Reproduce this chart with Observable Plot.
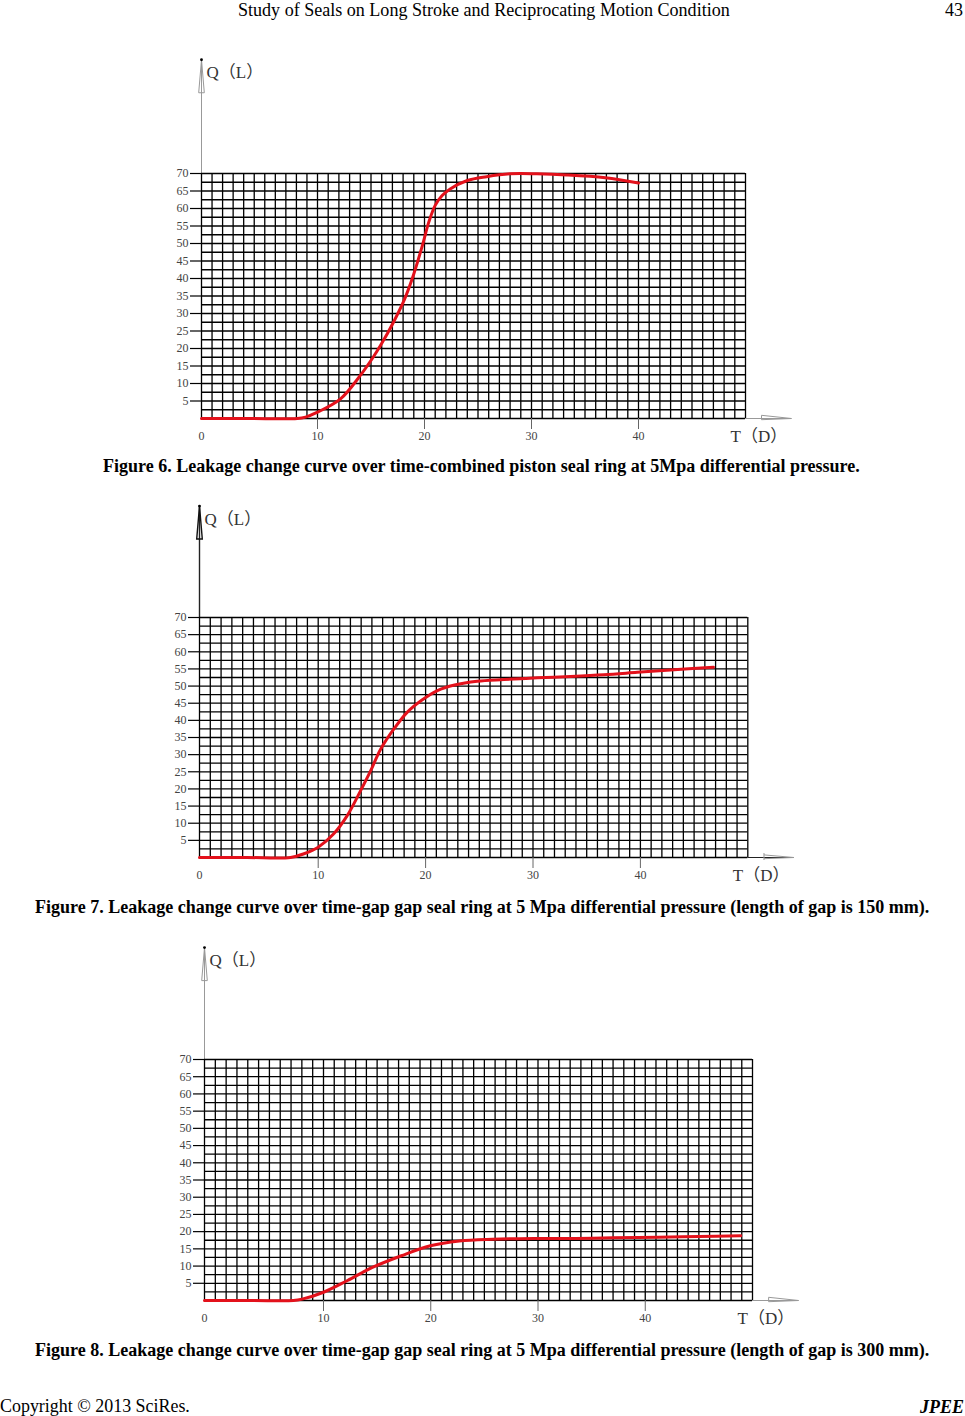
<!DOCTYPE html>
<html><head><meta charset="utf-8">
<script src="https://cdn.jsdelivr.net/npm/d3@7"></script>
<script src="https://cdn.jsdelivr.net/npm/@observablehq/plot@0.6"></script>
<style>
body{margin:0;background:#fff;}
#page{position:relative;width:965px;height:1416px;overflow:hidden;font-family:"Liberation Serif","Times New Roman",serif;color:#000;background:#fff;}
.t{position:absolute;white-space:nowrap;line-height:1;}
.chart{position:absolute;left:0;}
</style></head><body><div id="page"></div>
<script>
// ---------- data ----------
const fig6T = [0, 4, 8.25, 8.97, 10, 12.15, 14, 15.2, 15.9, 17.1, 18.1, 18.85, 19.8, 20.4, 21.0, 21.65, 22.4, 24, 25.8, 28, 30.5, 33.3, 36.9, 40];
const fig6Q = [0, 0, 0, 0.4, 1.8, 5.6, 12.3, 17.5, 20.9, 27.5, 33.8, 39.9, 49.4, 56.1, 60.9, 63.7, 65.6, 68, 69.1, 69.9, 69.9, 69.6, 68.8, 67.3];

const fig7T = [0, 4, 7.67, 8.8, 10, 11.45, 12.7, 13.95, 14.9, 15.8, 17.1, 18.3, 19.6, 21.1, 22.7, 24.8, 27.3, 30.4, 33.5, 36.6, 39.7, 42.8, 46.8];
const fig7Q = [0, 0, 0, 1.1, 3.0, 6.9, 12.2, 19.5, 25.4, 31.5, 37.7, 42.4, 45.8, 48.7, 50.3, 51.4, 51.9, 52.4, 52.8, 53.3, 54.0, 54.7, 55.5];

const fig8T = [0, 4, 7.47, 8.2, 10, 12.24, 14.56, 17.26, 19.96, 22.66, 25.75, 29.6, 33.5, 37, 41.2, 45, 48.9];
const fig8Q = [0, 0, 0, 0.4, 2.4, 5.8, 9.6, 13, 15.9, 17.3, 17.8, 18.0, 18.0, 18.2, 18.4, 18.6, 18.8];

const yTickValues = [5, 10, 15, 20, 25, 30, 35, 40, 45, 50, 55, 60, 65, 70];
const xTickLabels = [0, 10, 20, 30, 40];
const xTickMarks = [10, 20, 30, 40];
const yLabel = "Q（L）";
const xLabel = "T（D）";

const captions = [
  "Figure 6. Leakage change curve over time-combined piston seal ring at 5Mpa differential pressure.",
  "Figure 7. Leakage change curve over time-gap gap seal ring at 5 Mpa differential pressure (length of gap is 150 mm).",
  "Figure 8. Leakage change curve over time-gap gap seal ring at 5 Mpa differential pressure (length of gap is 300 mm)."
];
const headerText = "Study of Seals on Long Stroke and Reciprocating Motion Condition";
const pageNumber = "43";
const footerLeft = "Copyright © 2013 SciRes.";
const footerRight = "JPEE";

// ---------- layout ----------
const xDomain = [0, 10, 50];       // 0–10 segment is wider in the reference
const yDomain = [0, 70];
const yAxisTop = 102.5;
const xAxisEnd = 54.3;
const xGrid = d3.range(12).map(k => k * 10 / 11).concat(d3.range(11, 51));
const yGrid = d3.range(0, 70.01, 2.5);

const FONT = "Liberation Serif, Noto Sans CJK SC, serif";
const RED = "#e3111b";

const arrowRight = {draw(ctx) { ctx.moveTo(-30, -3.2); ctx.lineTo(0, 0); ctx.lineTo(-30, 1.2); ctx.closePath(); }};
const arrowRightTick = {draw(ctx) { ctx.moveTo(-30, -4.5); ctx.lineTo(-30, 2.5); ctx.moveTo(-30, -2.6); ctx.lineTo(0, 0); ctx.lineTo(-30, 1.2); }};
const arrowUp = {draw(ctx) { ctx.moveTo(-2.8, 33); ctx.lineTo(0, 0); ctx.lineTo(2.8, 33); ctx.closePath(); }};

function chart(cfg) {
  const data = cfg.T.map((t, i) => ({t, q: cfg.Q[i]}));
  const p = Plot.plot({
    width: 965, height: cfg.height, margin: 0,
    style: {background: "transparent", overflow: "visible"},
    x: {type: "linear", domain: xDomain, range: cfg.xRange, axis: null},
    y: {type: "linear", domain: yDomain, range: cfg.yRange, axis: null},
    marks: [
      Plot.ruleX([0], {y1: 70, y2: yAxisTop, stroke: cfg.axisColor, strokeWidth: cfg.axisWidth}),
      Plot.ruleY([0], {x1: 50, x2: xAxisEnd, stroke: cfg.axisColor, strokeWidth: 1}),
      Plot.dot([0], {x: 0, y: yAxisTop, symbol: arrowUp, r: 4, fill: "none", stroke: cfg.arrowColor, strokeWidth: cfg.axisWidth}),
      Plot.dot([0], {x: 0, y: yAxisTop, r: 1.4, fill: "#000", stroke: null}),
      Plot.dot([0], {x: xAxisEnd, y: 0, symbol: cfg.xArrow, r: 4, fill: "none", stroke: "#999", strokeWidth: 1}),
      Plot.ruleX(xGrid, {x: d => d, y1: 0, y2: 70, stroke: "#000", strokeWidth: 1.3}),
      Plot.ruleY(yGrid, {y: d => d, x1: 0, x2: 50, stroke: "#000", strokeWidth: 1.3}),
      Plot.ruleY(yTickValues, {y: d => d, x1: 0, x2: 0, insetLeft: -11, stroke: "#000", strokeWidth: 1.2}),
      Plot.ruleX(xTickMarks, {x: d => d, y1: 0, y2: 0, insetBottom: -11, stroke: "#666", strokeWidth: 1}),
      Plot.text(yTickValues, {x: 0, y: d => d, text: d => String(d), textAnchor: "end", dx: -13, fontSize: 12, fill: "#444", fontFamily: FONT}),
      Plot.text(xTickLabels, {x: d => d, y: 0, text: d => String(d), dy: 18, fontSize: 12, fill: "#444", fontFamily: FONT}),
      Plot.text([yLabel], {x: 0, y: yAxisTop, text: d => d, textAnchor: "start", dx: 5, dy: 13, fontSize: 17, fill: "#333", fontFamily: FONT}),
      Plot.text([xLabel], {x: 50, y: 0, text: d => d, textAnchor: "start", dx: -15, dy: 18, fontSize: 17, fill: "#333", fontFamily: FONT}),
      Plot.line(data, {x: "t", y: "q", stroke: RED, strokeWidth: 3, curve: "catmull-rom"})
    ]
  });
  p.classList.add("chart");
  p.style.top = cfg.top + "px";
  page.appendChild(p);
}

const page = document.getElementById("page");

chart({top: 45, height: 405, xRange: [201, 317, 745], yRange: [373, 128], T: fig6T, Q: fig6Q, axisColor: "#999", arrowColor: "#999", axisWidth: 1, xArrow: arrowRight});
chart({top: 495, height: 400, xRange: [199, 317.7, 747.3], yRange: [362, 122], T: fig7T, Q: fig7Q, axisColor: "#222", arrowColor: "#111", axisWidth: 1.4, xArrow: arrowRightTick});
chart({top: 940, height: 400, xRange: [204, 323, 752], yRange: [360, 119], T: fig8T, Q: fig8Q, axisColor: "#999", arrowColor: "#999", axisWidth: 1, xArrow: arrowRight});

// text sized so its natural width matches the reference width
function addText(str, {left, width, center, weight = "normal", style = "normal"}) {
  const d = document.createElement("div");
  d.className = "t";
  d.textContent = str;
  d.style.fontSize = "20px";
  d.style.fontWeight = weight;
  d.style.fontStyle = style;
  d.style.left = left + "px";
  page.appendChild(d);
  const w = d.getBoundingClientRect().width;
  const size = 20 * width / w;
  d.style.fontSize = size + "px";
  d.style.top = (center - 0.51 * size) + "px";
}

addText(headerText, {left: 238, width: 492, center: 10});
addText(pageNumber, {left: 945, width: 18, center: 10});
addText(captions[0], {left: 103, width: 757, center: 466, weight: "bold"});
addText(captions[1], {left: 35, width: 895, center: 907, weight: "bold"});
addText(captions[2], {left: 35, width: 895, center: 1350, weight: "bold"});
addText(footerLeft, {left: 0, width: 190, center: 1407});
addText(footerRight, {left: 920, width: 44, center: 1407, weight: "bold", style: "italic"});
</script>
</body></html>
